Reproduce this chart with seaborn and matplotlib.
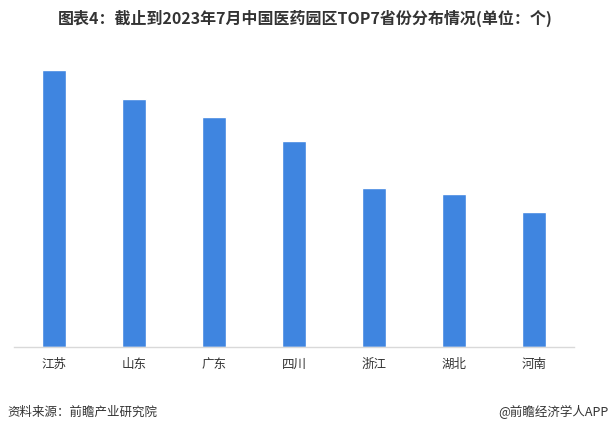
import matplotlib
matplotlib.use("Agg")
import matplotlib.pyplot as plt
import seaborn as sns
import pandas as pd

provinces = ["江苏", "山东", "广东", "四川", "浙江", "湖北", "河南"]
counts = [138.5, 124, 115, 103, 79.5, 76.5, 67.5]

sns.set_theme(style="white")
plt.rcParams['font.family'] = ['Noto Sans CJK SC', 'DejaVu Sans']

df = pd.DataFrame({"省份": provinces, "数量": counts})

fig = plt.figure(figsize=(6.1, 4.35), dpi=100)
ax = fig.add_axes([0.023, 0.2, 0.918, 0.685])
sns.barplot(data=df, x="省份", y="数量", color="#3F85E0", saturation=1, width=0.3, ax=ax)
ax.set_xlim(-0.5, 6.5)
ax.set_ylim(0, 149)
ax.set_xlabel("")
ax.set_ylabel("")
ax.set_yticks([])
for s in ["top", "right", "left"]:
    ax.spines[s].set_visible(False)
ax.spines["bottom"].set_color("#D9D9D9")
ax.spines["bottom"].set_linewidth(1)
ax.tick_params(axis="x", length=0, labelsize=9, colors="#333333", pad=7)

fig.text(0.5, 0.957, "图表4：截止到2023年7月中国医药园区TOP7省份分布情况(单位：个)",
         ha="center", va="center", fontsize=11.5, fontweight="bold", color="#333333")
fig.text(0.012, 0.052, "资料来源：前瞻产业研究院", ha="left", va="center", fontsize=9, color="#333333")
fig.text(0.998, 0.052, "@前瞻经济学人APP", ha="right", va="center", fontsize=9, color="#333333")

fig.savefig("out.png", dpi=100)
